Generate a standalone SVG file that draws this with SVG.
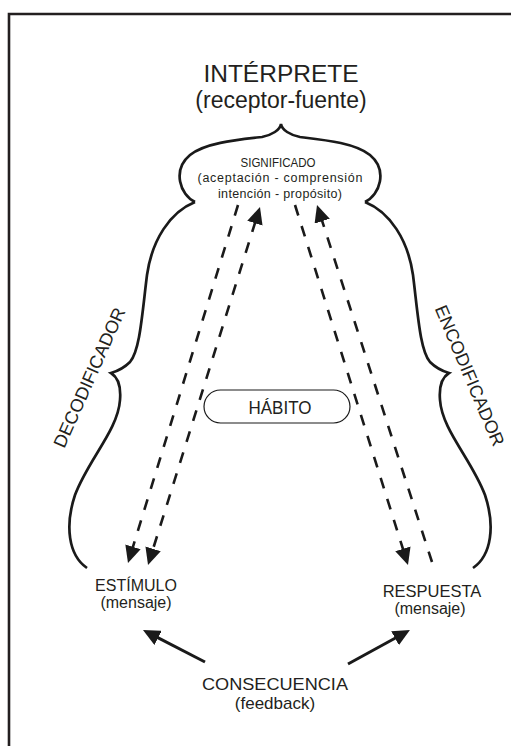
<svg xmlns="http://www.w3.org/2000/svg" width="511" height="746" viewBox="0 0 511 746">
<style>
  text { font-family: "Liberation Sans", Arial, sans-serif; fill: #231f20; }
  .c { text-anchor: middle; }
  .outline { fill: none; stroke: #1a1a1a; stroke-width: 2.7; stroke-linejoin: miter; }
  .dash { fill: none; stroke: #1a1a1a; stroke-width: 2.6; stroke-dasharray: 11 11; }
  .solid { fill: none; stroke: #1a1a1a; stroke-width: 3; }
</style>
<defs>
  <marker id="ah" viewBox="0 0 17 16" refX="2" refY="8" markerWidth="17" markerHeight="16" orient="auto-start-reverse" markerUnits="userSpaceOnUse">
    <path d="M0,0 L17,8 L0,16 z" fill="#1a1a1a"/>
  </marker>
</defs>
<rect width="511" height="746" fill="#ffffff"/>
<path d="M9,746 V14 H511" fill="none" stroke="#231f20" stroke-width="2.6"/>

<g id="interprete">
  <text class="c" x="281" y="82" font-size="24.5">INTÉRPRETE</text>
  <text class="c" x="281" y="108" font-size="23">(receptor-fuente)</text>
</g>

<g id="outline">
  <path class="outline" d="M195,202 C180,195 172,170 190,155 C205,143 235,140 262,137 C272,135 280,130 281,124 C282,130 290,135 300,137 C325,140 355,143 370,155 C388,170 380,195 365,202"/>
  <path class="outline" d="M195,202 C170,212 152,240 147,275 C142,315 140,350 130,362 C124,368 118,371 111,373 C119,378 121,388 120,400 C118,430 88,460 75,495 C65,525 68,555 87,568"/>
  <path class="outline" d="M365,202 C390,212 408,240 413,275 C418,315 420,350 430,362 C436,368 442,371 449,373 C441,378 439,388 440,400 C442,430 472,460 485,495 C495,525 492,555 473,568"/>
</g>

<g id="significado">
  <text class="c" x="278" y="167" font-size="12" textLength="75" lengthAdjust="spacingAndGlyphs">SIGNIFICADO</text>
  <text class="c" x="280" y="182" font-size="12.5" textLength="165" lengthAdjust="spacing">(aceptación - comprensión</text>
  <text class="c" x="280" y="197.5" font-size="12.5" textLength="124" lengthAdjust="spacing">intención - propósito)</text>
</g>

<g id="decodificador">
  <text class="c" transform="translate(95,380) rotate(-66)" font-size="18">DECODIFICADOR</text>
</g>
<g id="encodificador">
  <text class="c" transform="translate(464,378) rotate(67)" font-size="18">ENCODIFICADOR</text>
</g>

<g id="habito">
  <rect x="204" y="390" width="146" height="33" rx="16.5" fill="none" stroke="#1a1a1a" stroke-width="1.2"/>
  <text class="c" x="280" y="414" font-size="18" textLength="63" lengthAdjust="spacingAndGlyphs">HÁBITO</text>
</g>

<g id="estimulo">
  <text class="c" x="136" y="591" font-size="16">ESTÍMULO</text>
  <text class="c" x="136" y="608" font-size="16">(mensaje)</text>
</g>
<g id="respuesta">
  <text class="c" x="432" y="597" font-size="16.5">RESPUESTA</text>
  <text class="c" x="430" y="614" font-size="16">(mensaje)</text>
</g>
<g id="consecuencia">
  <text class="c" x="275" y="690" font-size="17" textLength="146" lengthAdjust="spacingAndGlyphs">CONSECUENCIA</text>
  <text class="c" x="275" y="709" font-size="17">(feedback)</text>
</g>

<g id="connectors">
  <path class="dash" d="M238,205 L132.4,548.7" marker-end="url(#ah)"/>
  <path class="dash" d="M255.5,221.3 L152.5,550.7" marker-start="url(#ah)" marker-end="url(#ah)"/>
  <path class="dash" d="M295,205 L403.5,550.7" marker-end="url(#ah)"/>
  <path class="dash" d="M432,562 L321.6,219.3" marker-end="url(#ah)"/>
  <path class="solid" d="M205,662 L156.3,636.9" marker-end="url(#ah)"/>
  <path class="solid" d="M348,664 L396.8,637.2" marker-end="url(#ah)"/>
</g>
</svg>
